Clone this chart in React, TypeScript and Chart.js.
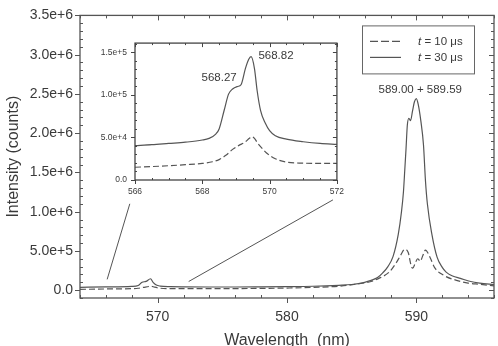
import React, { useEffect, useRef } from "react";
import { Chart, registerables } from "chart.js";

Chart.register(...registerables);

// Full emission spectrum, t = 30 µs (solid)
const wl30 = [564, 566, 568, 568.5, 568.8, 569.1, 569.45, 569.65, 569.9, 570.2, 571, 572, 574, 576, 578, 580, 582, 584, 585, 586, 586.5, 587, 587.4, 587.8, 588.2, 588.6, 588.85, 589.0, 589.1, 589.2, 589.3, 589.42, 589.55, 589.7, 589.85, 590.0, 590.15, 590.35, 590.55, 590.7, 590.85, 591.2, 591.6, 592.0, 592.3, 592.8, 593.4, 594.2, 594.9, 596];
const counts30 = [36000, 40500, 47000, 60000, 101000, 111000, 145000, 100000, 65000, 52000, 45000, 42000, 40000, 40000, 42000, 45000, 50000, 62000, 72000, 100000, 125000, 160000, 220000, 300000, 430000, 710000, 1000000, 1250000, 1520000, 1800000, 2100000, 2190000, 2160000, 2280000, 2400000, 2440000, 2360000, 2150000, 1850000, 1400000, 1100000, 710000, 420000, 290000, 230000, 180000, 150000, 110000, 90000, 70000];

// Full emission spectrum, t = 10 µs (dashed)
const wl10 = [564, 566, 568, 568.5, 568.9, 569.2, 569.48, 569.77, 570.2, 571, 572, 574, 576, 578, 580, 582, 584, 585.5, 586.5, 587.1, 587.9, 588.45, 588.8, 589.1, 589.37, 589.6, 589.72, 589.9, 590.1, 590.3, 590.5, 590.7, 591.05, 591.4, 592.1, 593.1, 594.0, 594.9, 596];
const counts10 = [10000, 15000, 19500, 24000, 36000, 43000, 51000, 37500, 25000, 20000, 19500, 19000, 20000, 22000, 27000, 35000, 50000, 80000, 110000, 150000, 230000, 350000, 450000, 520000, 480000, 310000, 280000, 340000, 400000, 370000, 440000, 510000, 420000, 290000, 190000, 125000, 90000, 75000, 55000];

// Zoomed region 566–572 nm
const zoomWl30 = [566, 566.5, 567, 567.5, 568, 568.2, 568.4, 568.5, 568.65, 568.78, 568.9, 569.05, 569.15, 569.28, 569.38, 569.45, 569.55, 569.63, 569.73, 569.87, 570.0, 570.17, 570.5, 571, 571.5, 572];
const zoomCounts30 = [40500, 41500, 43000, 44500, 47000, 49000, 54000, 60000, 82000, 101000, 107000, 110000, 112000, 131000, 142000, 145000, 131000, 105000, 82000, 67000, 58000, 52000, 48000, 45000, 43000, 42000];
const zoomWl10 = [566, 566.5, 567, 567.5, 568, 568.3, 568.5, 568.7, 568.9, 569.1, 569.25, 569.4, 569.48, 569.55, 569.65, 569.77, 569.9, 570.17, 570.5, 571, 571.5, 572];
const zoomCounts10 = [15000, 15800, 16800, 18000, 19500, 21500, 24000, 29000, 36000, 41000, 44000, 49000, 51000, 49000, 43000, 37500, 32000, 25000, 21000, 19800, 19500, 19500];

// Axis ticks
const mainXTicks = [570, 580, 590];
const mainYTicks = [0, 500000, 1000000, 1500000, 2000000, 2500000, 3000000, 3500000];
const zoomXTicks = [566, 568, 570, 572];
const zoomYTicks = [0, 50000, 100000, 150000];

// Legend and peak labels
const seriesTimes = ["10 μs", "30 μs"];
const mainPeakLabel = { text: "589.00 + 589.59", x: 590.3, y: 2550000 };
const zoomPeakLabels = ["568.27", "568.82"];
const zoomPeakX = [568.5, 570.19];
const zoomPeakY = [120400, 145500];

// Leader lines from the zoomed region to the inset
const leaderLeftX = [566.1, 567.85];
const leaderLeftY = [137500, 1100000];
const leaderRightX = [572.4, 583.55];
const leaderRightY = [110000, 1150000];

const FONT = "'Liberation Sans', Arial, Helvetica, sans-serif";
const TEXT = "#3a3a3a";
const LINE = "#555";

const pts = (xs: number[], ys: number[]) => xs.map((x, i) => ({ x, y: ys[i] }));
const sci = (v: number) => (v === 0 ? "0.0" : v.toExponential(1));

// Boxed frame with major/minor tick marks on all four sides
const frameTicks = {
  id: "frameTicks",
  afterDatasetsDraw(chart: any, _a: any, o: any) {
    const { ctx, chartArea: a, scales } = chart;
    const xs = scales.x, ys = scales.y;
    ctx.save();
    ctx.strokeStyle = o.color;
    ctx.lineWidth = o.frameWidth;
    ctx.strokeRect(a.left, a.top, a.right - a.left, a.bottom - a.top);
    ctx.lineWidth = 1;
    const seg = (x1: number, y1: number, x2: number, y2: number) => {
      ctx.beginPath();
      ctx.moveTo(x1, y1);
      ctx.lineTo(x2, y2);
      ctx.stroke();
    };
    const isMajor = (v: number, step: number) => Math.abs(v / step - Math.round(v / step)) < 1e-6;
    for (let n = Math.ceil(xs.min / o.xMinor - 1e-9); n * o.xMinor <= xs.max + 1e-9; n++) {
      const v = n * o.xMinor;
      const p = Math.round(xs.getPixelForValue(v)) + 0.5;
      if (isMajor(v, o.xMajor)) {
        seg(p, a.bottom, p, a.bottom + o.majorLen);
        seg(p, a.top, p, a.top + o.majorLen);
      } else {
        seg(p, a.bottom, p, a.bottom - o.minorLen);
        seg(p, a.top, p, a.top + o.minorLen);
      }
    }
    for (let n = Math.ceil(ys.min / o.yMinor - 1e-9); n * o.yMinor <= ys.max + 1e-9; n++) {
      const v = n * o.yMinor;
      const p = Math.round(ys.getPixelForValue(v)) + 0.5;
      if (isMajor(v, o.yMajor)) {
        seg(a.left - o.majorLen, p, a.left, p);
        seg(a.right - o.majorLen, p, a.right, p);
      } else {
        seg(a.left, p, a.left + o.minorLen, p);
        seg(a.right - o.minorLen, p, a.right, p);
      }
    }
    ctx.restore();
  },
};

const whiteBg = {
  id: "whiteBg",
  beforeDraw(chart: any) {
    const { ctx, width, height } = chart;
    ctx.save();
    ctx.fillStyle = "#fff";
    ctx.fillRect(0, 0, width, height);
    ctx.restore();
  },
};

// Legend box and main peak label
const mainDecor = {
  id: "mainDecor",
  afterDraw(chart: any) {
    const { ctx, chartArea: a, scales } = chart;
    ctx.save();
    const bx = a.right - 132, by = a.top + 10, bw = 112, bh = 48;
    ctx.strokeStyle = "#666";
    ctx.lineWidth = 1;
    ctx.strokeRect(bx + 0.5, by + 0.5, bw, bh);
    ctx.textBaseline = "middle";
    ctx.fillStyle = TEXT;
    seriesTimes.forEach((t, i) => {
      const y = by + 16 + i * 16;
      ctx.strokeStyle = LINE;
      ctx.lineWidth = 1.2;
      ctx.setLineDash(i === 0 ? [8, 3] : []);
      ctx.beginPath();
      ctx.moveTo(bx + 8, y);
      ctx.lineTo(bx + 39, y);
      ctx.stroke();
      ctx.setLineDash([]);
      ctx.textAlign = "left";
      ctx.font = `italic 11.5px ${FONT}`;
      ctx.fillText("t", bx + 56, y);
      const w = ctx.measureText("t").width;
      ctx.font = `11.5px ${FONT}`;
      ctx.fillText(` = ${t}`, bx + 56 + w, y);
    });
    ctx.font = `11.5px ${FONT}`;
    ctx.textAlign = "center";
    ctx.fillText(mainPeakLabel.text, scales.x.getPixelForValue(mainPeakLabel.x), scales.y.getPixelForValue(mainPeakLabel.y));
    ctx.restore();
  },
};

const zoomDecor = {
  id: "zoomDecor",
  afterDraw(chart: any) {
    const { ctx, scales } = chart;
    ctx.save();
    ctx.font = `11.5px ${FONT}`;
    ctx.fillStyle = TEXT;
    ctx.textAlign = "center";
    ctx.textBaseline = "middle";
    zoomPeakLabels.forEach((t, i) => {
      ctx.fillText(t, scales.x.getPixelForValue(zoomPeakX[i]), scales.y.getPixelForValue(zoomPeakY[i]));
    });
    ctx.restore();
  },
};

const lineSet = (data: any[], dashed: boolean) => ({
  data,
  borderColor: LINE,
  borderWidth: 1.2,
  borderDash: dashed ? [6, 3] : [],
  pointRadius: 0,
  fill: false,
  cubicInterpolationMode: "monotone" as const,
});

export default function App() {
  const mainRef = useRef<HTMLCanvasElement>(null);
  const zoomRef = useRef<HTMLCanvasElement>(null);

  useEffect(() => {
    const main = new Chart(mainRef.current!, {
      type: "line",
      data: {
        datasets: [
          lineSet(pts(wl10, counts10), true),
          lineSet(pts(wl30, counts30), false),
          { ...lineSet(pts(leaderLeftX, leaderLeftY), false), borderWidth: 1, borderColor: "#555", cubicInterpolationMode: "default" as const },
          { ...lineSet(pts(leaderRightX, leaderRightY), false), borderWidth: 1, borderColor: "#555", cubicInterpolationMode: "default" as const },
        ],
      },
      options: {
        responsive: false,
        animation: false,
        events: [],
        layout: { padding: { top: 10, right: 4, left: 0, bottom: 0 } },
        plugins: {
          legend: { display: false },
          tooltip: { enabled: false },
          frameTicks: { color: "#555", frameWidth: 1.3, xMinor: 2, xMajor: 10, yMinor: 100000, yMajor: 500000, majorLen: 5, minorLen: 3 },
        } as any,
        scales: {
          x: {
            type: "linear",
            min: 564,
            max: 596,
            afterBuildTicks: (s: any) => { s.ticks = mainXTicks.map((value) => ({ value })); },
            afterFit: (s: any) => { s.height = 48; },
            grid: { display: false, drawTicks: false },
            border: { display: false },
            ticks: { padding: 11, color: TEXT, font: { family: FONT, size: 14 }, maxRotation: 0, autoSkip: false, callback: (v: any) => String(v) },
            title: { display: true, text: "Wavelength  (nm)", color: TEXT, font: { family: FONT, size: 16, lineHeight: 1 }, padding: { top: 0, bottom: -3 } },
          },
          y: {
            type: "linear",
            min: -100000,
            max: 3500000,
            afterBuildTicks: (s: any) => { s.ticks = mainYTicks.map((value) => ({ value })); },
            afterFit: (s: any) => { s.width = 80; },
            grid: { display: false, drawTicks: false },
            border: { display: false },
            ticks: { padding: 7, color: TEXT, font: { family: FONT, size: 14 }, autoSkip: false, callback: (v: any) => sci(Number(v)) },
            title: { display: true, text: "Intensity (counts)", color: TEXT, font: { family: FONT, size: 16, lineHeight: 1 }, padding: { top: 6, bottom: 0 } },
          },
        },
      },
      plugins: [whiteBg, frameTicks, mainDecor],
    });

    const zoom = new Chart(zoomRef.current!, {
      type: "line",
      data: {
        datasets: [
          lineSet(pts(zoomWl10, zoomCounts10), true),
          lineSet(pts(zoomWl30, zoomCounts30), false),
        ],
      },
      options: {
        responsive: false,
        animation: false,
        events: [],
        layout: { padding: { top: 7, right: 12, left: 0, bottom: 0 } },
        plugins: {
          legend: { display: false },
          tooltip: { enabled: false },
          frameTicks: { color: "#444", frameWidth: 1.3, xMinor: 0.5, xMajor: 2, yMinor: 10000, yMajor: 50000, majorLen: 4, minorLen: 2 },
        } as any,
        scales: {
          x: {
            type: "linear",
            min: 566,
            max: 572,
            afterBuildTicks: (s: any) => { s.ticks = zoomXTicks.map((value) => ({ value })); },
            afterFit: (s: any) => { s.height = 16; },
            grid: { display: false, drawTicks: false },
            border: { display: false },
            ticks: { padding: 7, color: TEXT, font: { family: FONT, size: 8.5 }, maxRotation: 0, autoSkip: false, callback: (v: any) => String(v) },
          },
          y: {
            type: "linear",
            min: 0,
            max: 161000,
            afterBuildTicks: (s: any) => { s.ticks = zoomYTicks.map((value) => ({ value })); },
            afterFit: (s: any) => { s.width = 40; },
            grid: { display: false, drawTicks: false },
            border: { display: false },
            ticks: { padding: 8, color: TEXT, font: { family: FONT, size: 8.5 }, autoSkip: false, callback: (v: any) => sci(Number(v)) },
          },
        },
      },
      plugins: [whiteBg, frameTicks, zoomDecor],
    });

    return () => {
      main.destroy();
      zoom.destroy();
    };
  }, []);

  return (
    <div style={{ position: "fixed", left: 0, top: 0, width: 498, height: 346, background: "#fff" }}>
      <canvas ref={mainRef} width={498} height={346} style={{ position: "absolute", left: 0, top: 0 }} />
      <canvas ref={zoomRef} width={256} height={166} style={{ position: "absolute", left: 95, top: 30 }} />
    </div>
  );
}
